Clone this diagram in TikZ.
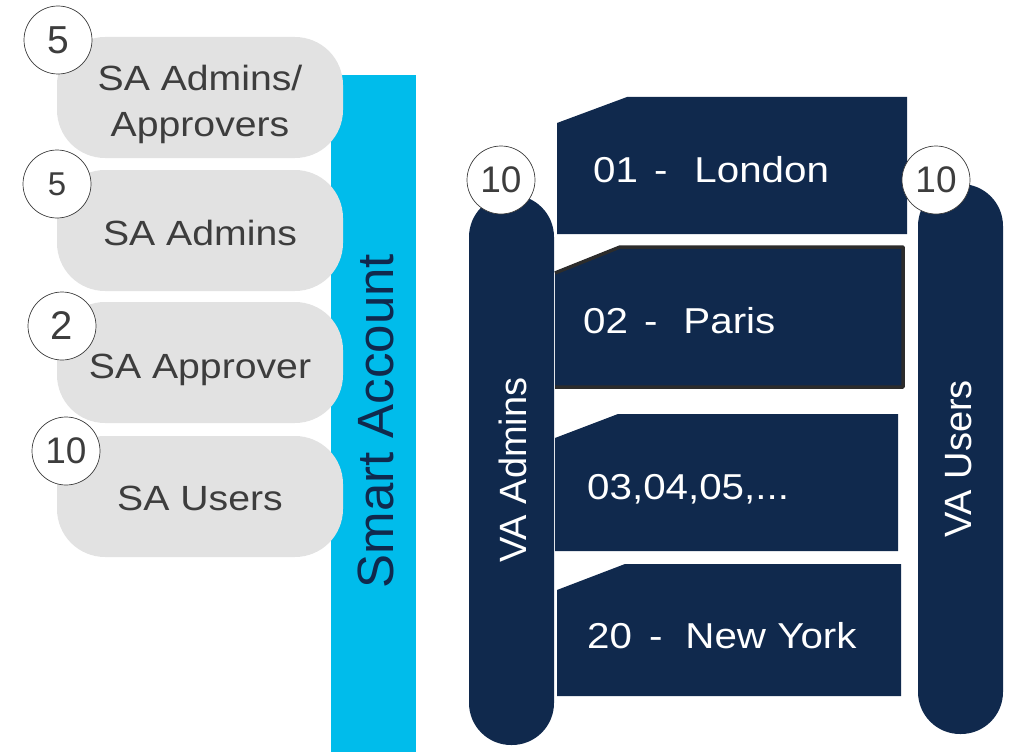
\documentclass[tikz,border=0pt]{standalone}
\usepackage{fontspec}
\setmainfont{Liberation Sans}
\newfontfamily\widesans[FakeStretch=1.12]{Liberation Sans}
\definecolor{cisconavy}{HTML}{10294D}
\definecolor{ciscocyan}{HTML}{00BCEB}
\definecolor{pillgrey}{HTML}{E2E2E2}
\definecolor{textgrey}{HTML}{3D3D3D}
\definecolor{edgegrey}{HTML}{2C2C2C}
\tikzset{
  sapill/.style={fill=pillgrey, rounded corners=48pt},
  satext/.style={inner sep=0pt, align=center, text=textgrey, font=\widesans\fontsize{35}{46}\selectfont},
  countcirc/.style={circle, draw=textgrey, line width=0.7pt, fill=white, minimum size=68pt,
    inner sep=0pt, text=textgrey},
  vapill/.style={fill=cisconavy, rounded corners=42pt},
  boxtext/.style={anchor=base west, inner sep=0pt, text=white, font=\widesans\fontsize{36}{40}\selectfont},
  sidetext/.style={rotate=90, inner sep=0pt, font=\fontsize{38}{40}\selectfont}
}

\begin{document}
\begin{tikzpicture}[x=1pt, y=-1pt]
  \useasboundingbox (0,0) rectangle (1010,752);

  % smart account bar
  \fill[ciscocyan] (331,75) rectangle (416,752);
  \node[sidetext, text=cisconavy, font=\fontsize{51}{54}\selectfont] (smartacc) at (376,421) {Smart Account};

  \foreach \y in {37,170,302,436}
  {
  \fill[sapill] (57,\y) rectangle (343,\y + 121);
  }
  \node[satext] (saadmapp) at (200,104) {SA Admins/\\Approvers};
  \node[satext] (saadm) at (200,233) {SA Admins};
  \node[satext] (saappr) at (200,370) {SA Approver};
  \node[satext] (sausr) at (200,498) {SA Users};

  \node[countcirc, font=\fontsize{39}{40}\selectfont] (nadmapp) at (58,40) {5};
  \node[countcirc, font=\fontsize{33}{36}\selectfont] (nadm) at (57,184) {5};
  \node[countcirc, font=\fontsize{40}{42}\selectfont] (nappr) at (62,326) {2};
  \node[countcirc, font=\fontsize{37}{40}\selectfont] (nusr) at (66,451) {10};

  % virtual accounts
  \fill[cisconavy] (557,123) -- (627,97) -- (907,97) -- (907,234) -- (557,234) -- cycle;
  \fill[cisconavy] (555,273) -- (620,247) -- (903,247) -- (903,387) -- (555,387) -- cycle;
  \draw[edgegrey, line width=3.5pt, line join=round] (555,273) -- (620,247) -- (903,247) -- (903,387) -- (555,387);
  \fill[cisconavy] (555,438) -- (618,414) -- (898,414) -- (898,551) -- (555,551) -- cycle;
  \fill[cisconavy] (557,590) -- (625,564) -- (901,564) -- (901,696) -- (557,696) -- cycle;

  \node[boxtext] (london) at (593,182) {01\hspace{16pt}-\hspace{27pt}London};
  \node[boxtext] (paris) at (583,333) {02\hspace{16pt}-\hspace{26pt}Paris};
  \node[boxtext] (others) at (587,499) {03,04,05,...};
  \node[boxtext] (newyork) at (587,648) {20\hspace{17pt}-\hspace{23pt}New York};

  \fill[vapill] (469,195) rectangle (554,745);
  \fill[vapill] (918,184) rectangle (1003,734);
  \node[sidetext, text=white] (vaadm) at (513,470) {VA Admins};
  \node[sidetext, text=white] (vausr) at (959,459) {VA Users};

  \node[countcirc, font=\fontsize{37}{40}\selectfont] (nvaadm) at (501,180) {10};
  \node[countcirc, font=\fontsize{37}{40}\selectfont] (nvausr) at (936,180) {10};
\end{tikzpicture}
\end{document}
